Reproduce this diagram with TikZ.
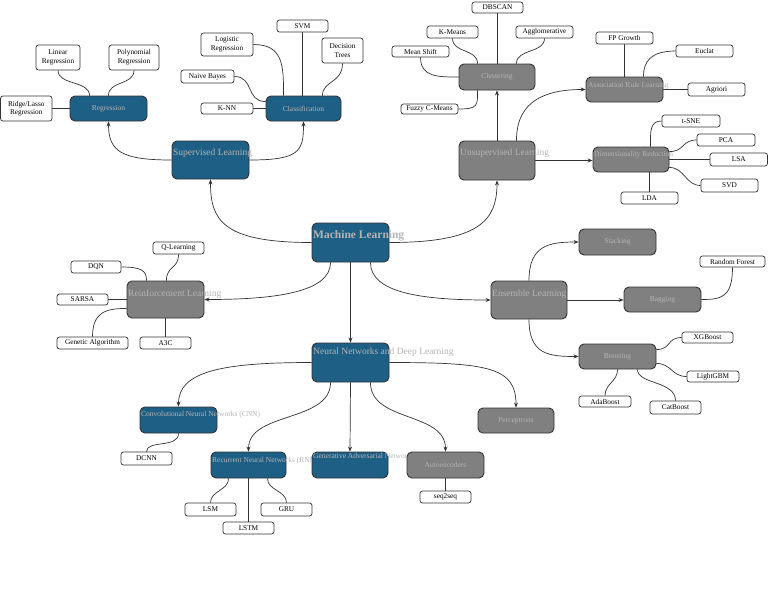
\documentclass[tikz,border=0pt]{standalone}
\usepackage{fontspec}
\setmainfont{Liberation Serif}
\usetikzlibrary{arrows.meta,backgrounds}
\definecolor{mlblue}{HTML}{1E5F86}
\definecolor{mlgray}{HTML}{808080}
\definecolor{lblgray}{HTML}{B4B4B4}
\definecolor{edgecol}{HTML}{333333}
\newcommand{\boxat}[7]{\node[#1, minimum width={(#4-#2)*1pt}, minimum height={(#5-#3)*1pt}] (#6) at ({(#2+#4)/2},{(#3+#5)/2}) {#7};}
\begin{document}
\begin{tikzpicture}[x=1pt,y=-1pt,
  base/.style={rectangle, rounded corners=5pt, draw=edgecol, line width=0.9pt, inner sep=0pt},
  bluebox/.style={base, fill=mlblue, text=lblgray, font=\fontsize{7.5}{9}\selectfont},
  graybox/.style={base, fill=mlgray, text=lblgray, font=\fontsize{7.5}{9}\selectfont},
  leaf/.style={rectangle, rounded corners=2.5pt, draw=edgecol, line width=0.7pt, fill=white, inner sep=0pt, align=center, font=\fontsize{7.3}{8.5}\selectfont},
  biglbl/.style={anchor=west, inner sep=0pt, text=lblgray, font=\fontsize{9.5}{11}\selectfont},
  toplbl/.style={anchor=west, inner sep=0pt, text=lblgray, font=\bfseries\fontsize{11.5}{13}\selectfont},
  smalllbl/.style={anchor=west, inner sep=0pt, text=lblgray, font=\fontsize{7.5}{9}\selectfont},
  edge/.style={draw=edgecol, line width=0.7pt},
  arr/.style={edge, -{Stealth[length=5pt,width=4pt]}}]
\useasboundingbox (0,0) rectangle (768,614);

% main boxes
\boxat{bluebox}{312}{223}{389}{262}{ml}{}
\node[toplbl] (mlL) at (313,236) {Machine Learning};
\boxat{bluebox}{172}{141}{249}{179}{sup}{}
\node[biglbl] (supL) at (173,153) {Supervised Learning};
\boxat{graybox}{459}{141}{535}{180}{unsup}{}
\node[biglbl] (unsupL) at (460,153) {Unsupervised Learning};
\boxat{graybox}{127}{281}{204}{318}{rl}{}
\node[biglbl] (rlL) at (128,294) {Reinforcement Learning};
\boxat{graybox}{491}{281}{567}{319}{ens}{}
\node[biglbl] (ensL) at (492,294) {Ensemble Learning};
\boxat{bluebox}{312}{343}{389}{382}{nn}{}
\node[biglbl] (nnL) at (313,352) {Neural Networks and Deep Learning};

% sub boxes
\boxat{bluebox}{70}{96}{147}{121}{reg}{Regression}
\boxat{bluebox}{266}{96}{341}{121}{cls}{Classification}
\boxat{graybox}{459}{64}{535}{90}{clu}{Clustering}
\boxat{graybox}{586}{77}{663}{102}{arl}{}
\node[smalllbl] (arlL) at (588,86) {Association Rule Learning};
\boxat{graybox}{593}{147}{669}{172}{dr}{}
\node[smalllbl] (drL) at (594,155) {Dimensionality Reduction};
\boxat{graybox}{579}{229}{656}{255}{stk}{Stacking}
\boxat{graybox}{624}{287}{701}{312}{bag}{Bagging}
\boxat{graybox}{579}{344}{656}{369}{boo}{Boosting}
\boxat{bluebox}{140}{407}{217}{433}{cnn}{}
\node[smalllbl] (cnnL) at (141,415) {Convolutional Neural Networks (CNN)};
\boxat{graybox}{478}{408}{554}{433}{per}{Perceptrons}
\boxat{bluebox}{211}{452}{286}{478}{rnn}{}
\node[smalllbl] (rnnL) at (212,461) {Recurrent Neural Networks (RNNs)};
\boxat{bluebox}{312}{452}{388}{478}{gan}{}
\node[smalllbl] (ganL) at (313,457) {Generative Adversarial Networks (GANs)};
\boxat{graybox}{407}{452}{484}{478}{ae}{Autoencoders}

% leaves
\boxat{leaf}{36}{45}{80}{70}{lin}{Linear\\Regression}
\boxat{leaf}{109}{45}{159}{70}{poly}{Polynomial\\Regression}
\boxat{leaf}{0.5}{96}{52}{121}{ridge}{Ridge/Lasso\\Regression}
\boxat{leaf}{277}{20}{328}{32}{svm}{SVM}
\boxat{leaf}{201}{33}{253}{56}{logr}{Logistic\\Regression}
\boxat{leaf}{322}{38}{363}{63}{dt}{Decision\\Trees}
\boxat{leaf}{181}{70}{234}{83}{nb}{Naive Bayes}
\boxat{leaf}{201}{103}{253}{114}{knn}{K-NN}
\boxat{leaf}{472}{2}{523}{13}{dbs}{DBSCAN}
\boxat{leaf}{427}{26}{478}{38}{km}{K-Means}
\boxat{leaf}{516}{26}{573}{38}{agg}{Agglomerative}
\boxat{leaf}{392}{46}{449}{57}{ms}{Mean Shift}
\boxat{leaf}{401}{104}{458}{114}{fcm}{Fuzzy C-Means}
\boxat{leaf}{596}{32}{653}{44}{fpg}{FP Growth}
\boxat{leaf}{676}{45}{733}{57}{euc}{Euclat}
\boxat{leaf}{688}{83}{745}{96}{apr}{Agriori}
\boxat{leaf}{662}{115}{720}{127}{tsne}{t-SNE}
\boxat{leaf}{697}{134}{755}{146}{pca}{PCA}
\boxat{leaf}{710}{153}{767.5}{166}{lsa}{LSA}
\boxat{leaf}{701}{179}{758}{192}{svd}{SVD}
\boxat{leaf}{621}{192}{678}{204}{lda}{LDA}
\boxat{leaf}{153}{242}{204}{254}{ql}{Q-Learning}
\boxat{leaf}{71}{261}{121}{273}{dqn}{DQN}
\boxat{leaf}{57}{294}{108}{305}{sarsa}{SARSA}
\boxat{leaf}{57}{337}{128}{349}{ga}{Genetic Algorithm}
\boxat{leaf}{140}{337}{191}{349}{a3c}{A3C}
\boxat{leaf}{700}{256}{765}{267}{rf}{Random Forest}
\boxat{leaf}{682}{332}{733}{343}{xgb}{XGBoost}
\boxat{leaf}{687}{371}{739}{382}{lgbm}{LightGBM}
\boxat{leaf}{579}{396}{631}{407}{ada}{AdaBoost}
\boxat{leaf}{650}{401}{701}{414}{cat}{CatBoost}
\boxat{leaf}{121}{452}{172}{465}{dcnn}{DCNN}
\boxat{leaf}{185}{503}{236}{516}{lsm}{LSM}
\boxat{leaf}{261}{503}{312}{516}{gru}{GRU}
\boxat{leaf}{223}{522}{274}{534}{lstm}{LSTM}
\boxat{leaf}{420}{491}{471}{503}{s2s}{seq2seq}

\begin{scope}[on background layer]
\fill[white] (0,0) rectangle (768,614);
% main arrows
\draw[arr] (ml.west) .. controls +(-90,0) and +(0,40) .. (sup.south);
\draw[arr] (ml.east) .. controls +(90,0) and +(0,40) .. (unsup.south);
\draw[arr] ([xshift=19pt]ml.south west) .. controls +(0,30) and +(70,0) .. (rl.east);
\draw[arr] ([xshift=-19pt]ml.south east) .. controls +(0,30) and +(-70,0) .. (ens.west);
\draw[arr] (ml.south) -- (nn.north);
\draw[arr] (sup.west) .. controls +(-50,0) and +(0,30) .. (reg.south);
\draw[arr] (sup.east) .. controls +(50,0) and +(0,30) .. (cls.south);
\draw[arr] (unsup.north) -- (clu.south);
\draw[arr] ([xshift=-19pt]unsup.north east) .. controls +(0,-40) and +(-40,0) .. (arl.west);
\draw[arr] (unsup.east) -- (unsup.east -| dr.west);
\draw[arr] (ens.north) .. controls +(0,-35) and +(-30,0) .. (stk.west);
\draw[arr] (ens.east) -- (ens.east -| bag.west);
\draw[arr] (ens.south) .. controls +(0,35) and +(-30,0) .. (boo.west);
\draw[arr] (nn.west) .. controls +(-90,0) and +(0,-35) .. (cnn.north);
\draw[arr] ([xshift=19pt]nn.south west) .. controls +(0,40) and +(0,-40) .. (rnn.north);
\draw[arr] (nn.south) -- (gan.north);
\draw[arr] ([xshift=-19pt]nn.south east) .. controls +(0,40) and +(0,-40) .. (ae.north);
\draw[arr] (nn.east) .. controls +(100,0) and +(0,-40) .. (per.north);
% leaf connectors
\draw[edge] (lin.south) .. controls +(0,15) and +(0,-15) .. ([xshift=20pt]reg.north west);
\draw[edge] (poly.south) .. controls +(0,15) and +(0,-15) .. ([xshift=-39pt]reg.north east);
\draw[edge] (ridge.east) -- (reg.west);
\draw[edge] (svm.south) -- (svm.south |- cls.north);
\draw[edge] (logr.east) .. controls +(30,0) and +(0,-30) .. ([xshift=18pt]cls.north west);
\draw[edge] (dt.south) .. controls +(0,20) and +(0,-15) .. ([xshift=-19pt]cls.north east);
\draw[edge] (nb.east) .. controls +(20,0) and +(-20,0) .. ([yshift=-6pt]cls.north west);
\draw[edge] (knn.east) -- (cls.west);
\draw[edge] (dbs.south) -- (dbs.south |- clu.north);
\draw[edge] (km.south) .. controls +(0,15) and +(0,-15) .. ([xshift=19pt]clu.north west);
\draw[edge] (agg.south) .. controls +(0,15) and +(0,-15) .. ([xshift=-19pt]clu.north east);
\draw[edge] (ms.south) .. controls +(0,20) and +(-20,0) .. (clu.west);
\draw[edge] (fcm.east) .. controls +(20,0) and +(0,15) .. ([xshift=19pt]clu.south west);
\draw[edge] (fpg.south) -- (fpg.south |- arl.north);
\draw[edge] (euc.west) .. controls +(-25,0) and +(0,-15) .. ([xshift=-20pt]arl.north east);
\draw[edge] (apr.west) -- (apr.west -| arl.east);
\draw[edge] (tsne.west) .. controls +(-12,0) and +(0,-15) .. ([xshift=-19pt]dr.north east);
\draw[edge] (pca.west) .. controls +(-15,0) and +(15,0) .. ([yshift=-5pt]dr.north east);
\draw[edge] (lsa.west) -- (dr.east);
\draw[edge] (svd.west) .. controls +(-15,0) and +(15,0) .. ([yshift=5pt]dr.south east);
\draw[edge] (lda.north) -- (lda.north |- dr.south);
\draw[edge] (ql.south) .. controls +(0,15) and +(0,-15) .. ([xshift=-38pt]rl.north east);
\draw[edge] (dqn.east) .. controls +(20,0) and +(0,-10) .. ([xshift=20pt]rl.north west);
\draw[edge] (sarsa.east) -- (sarsa.east -| rl.west);
\draw[edge] (ga.north) .. controls +(0,-25) and +(-20,0) .. ([yshift=10pt]rl.south west);
\draw[edge] (a3c.north) -- (a3c.north |- rl.south);
\draw[edge] (rf.south) .. controls +(0,30) and +(20,0) .. (bag.east);
\draw[edge] (xgb.west) .. controls +(-15,0) and +(15,0) .. ([yshift=-6pt]boo.north east);
\draw[edge] (lgbm.west) .. controls +(-15,0) and +(15,0) .. ([yshift=6pt]boo.south east);
\draw[edge] (ada.north) .. controls +(0,-12) and +(0,12) .. ([xshift=39pt]boo.south west);
\draw[edge] (cat.north) .. controls +(0,-20) and +(0,15) .. ([xshift=-19pt]boo.south east);
\draw[edge] (cnn.south) .. controls +(0,15) and +(0,-12) .. (dcnn.north);
\draw[edge] ([xshift=18pt]rnn.south west) .. controls +(0,12) and +(0,-12) .. (lsm.north);
\draw[edge] (rnn.south) -- (lstm.north);
\draw[edge] ([xshift=-19pt]rnn.south east) .. controls +(0,12) and +(0,-12) .. (gru.north);
\draw[edge] (ae.south) -- (s2s.north);
\end{scope}
\end{tikzpicture}
\end{document}
